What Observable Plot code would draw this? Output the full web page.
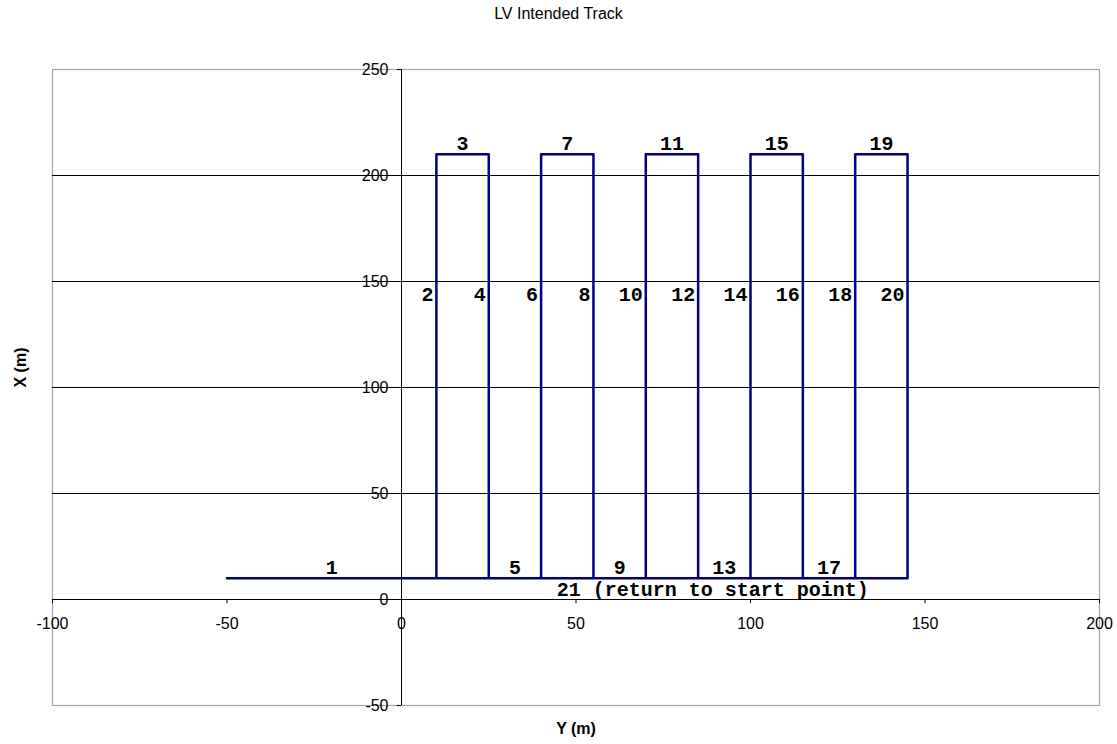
<!DOCTYPE html>
<html>
<head>
<meta charset="utf-8">
<script src="https://cdn.jsdelivr.net/npm/d3@7"></script>
<script src="https://cdn.jsdelivr.net/npm/@observablehq/plot@0.6"></script>
<style>
  html, body { margin: 0; padding: 0; background: #fff; }
  #wrap { position: relative; width: 1117px; height: 744px; }
  #title { position: absolute; top: 5px; left: 0; width: 1117px; text-align: center;
           font-family: "Liberation Sans", Arial, sans-serif; font-size: 16px; color: #000; }
</style>
</head>
<body>
<div id="wrap">
  <div id="title">LV Intended Track</div>
  <div id="chart"></div>
</div>
<script>
// Track vertices: horizontal axis "Y (m)", vertical axis "X (m)"
const trackYm = [-50, 10, 10, 25, 25, 40, 40, 55, 55, 70, 70, 85, 85, 100, 100, 115, 115, 130, 130, 145, 145, -50];
const trackXm = [10, 10, 210, 210, 10, 10, 210, 210, 10, 10, 210, 210, 10, 10, 210, 210, 10, 10, 210, 210, 10, 10];

// Labels for horizontal segments (centered above the segment)
const hLabels = ["1", "3", "5", "7", "9", "11", "13", "15", "17", "19"];
const hLabelYm = [-20, 17.5, 32.5, 47.5, 62.5, 77.5, 92.5, 107.5, 122.5, 137.5];
const hLabelXm = [10, 210, 10, 210, 10, 210, 10, 210, 10, 210];

// Labels for vertical segments (right-aligned, just left of the line)
const vLabels = ["2", "4", "6", "8", "10", "12", "14", "16", "18", "20"];
const vLabelYm = [10, 25, 40, 55, 70, 85, 100, 115, 130, 145];
const vLabelXm = [144, 144, 144, 144, 144, 144, 144, 144, 144, 144];

// Return label
const returnLabel = "21 (return to start point)";
const returnLabelYm = 44.5;
const returnLabelXm = 4.7;

// Axis ticks
const xTicks = [-100, -50, 0, 50, 100, 150, 200];
const yTicks = [-50, 0, 50, 100, 150, 200, 250];
const gridTicks = [50, 100, 150, 200];

const track = trackYm.map((v, i) => ({h: v, v: trackXm[i]}));
const hLab = hLabels.map((t, i) => ({t, h: hLabelYm[i], v: hLabelXm[i]}));
const vLab = vLabels.map((t, i) => ({t, h: vLabelYm[i], v: vLabelXm[i]}));

const monoFont = "'Liberation Mono', 'Courier New', monospace";
const sansFont = "'Liberation Sans', Arial, sans-serif";

const chart = Plot.plot({
  width: 1117,
  height: 744,
  marginLeft: 52,
  marginRight: 18,
  marginTop: 69,
  marginBottom: 39,
  style: {fontFamily: sansFont, fontSize: "16px", background: "#fff", color: "#000"},
  x: {domain: [-100, 200], axis: null},
  y: {domain: [-50, 250], axis: null},
  marks: [
    Plot.frame({stroke: "#a6a6a6", strokeWidth: 1.2}),
    Plot.ruleY(gridTicks, {y: d => d, stroke: "#000", strokeWidth: 1}),
    Plot.ruleY([0], {y: d => d, stroke: "#000", strokeWidth: 1}),
    Plot.ruleX([0], {x: d => d, stroke: "#000", strokeWidth: 1}),
    // tick marks
    Plot.ruleX(xTicks, {x: d => d, y1: 0, y2: -2, stroke: "#000"}),
    Plot.ruleY(yTicks, {y: d => d, x1: -1.2, x2: 0, stroke: "#000"}),
    // tick labels
    Plot.text(xTicks, {x: d => d, y: d => 0, text: d => String(d), dy: 24,
      fontSize: 16, fill: "#000"}),
    Plot.text(yTicks, {x: d => 0, y: d => d, text: d => String(d), dx: -13, textAnchor: "end",
      fontSize: 16, fill: "#000"}),
    // track
    Plot.line(track, {x: "h", y: "v", stroke: "#000080", strokeWidth: 2.5}),
    // labels
    Plot.text(hLab, {x: "h", y: "v", text: "t", dy: -11, fontFamily: monoFont, fontWeight: "bold",
      fontSize: 20, fill: "#000"}),
    Plot.text(vLab, {x: "h", y: "v", text: "t", dx: -3, textAnchor: "end", fontFamily: monoFont,
      fontWeight: "bold", fontSize: 20, fill: "#000"}),
    Plot.text([returnLabel], {x: d => returnLabelYm, y: d => returnLabelXm, text: d => d, textAnchor: "start",
      fontFamily: monoFont, fontWeight: "bold", fontSize: 20, fill: "#000"}),
    // axis titles
    Plot.text(["Y (m)"], {frameAnchor: "bottom", text: d => d, dy: 28, fontWeight: "bold", fontSize: 16, fill: "#000"}),
    Plot.text(["X (m)"], {frameAnchor: "left", text: d => d, dx: -32, rotate: -90, fontWeight: "bold", fontSize: 16, fill: "#000"})
  ]
});
document.getElementById("chart").appendChild(chart);
</script>
</body>
</html>
